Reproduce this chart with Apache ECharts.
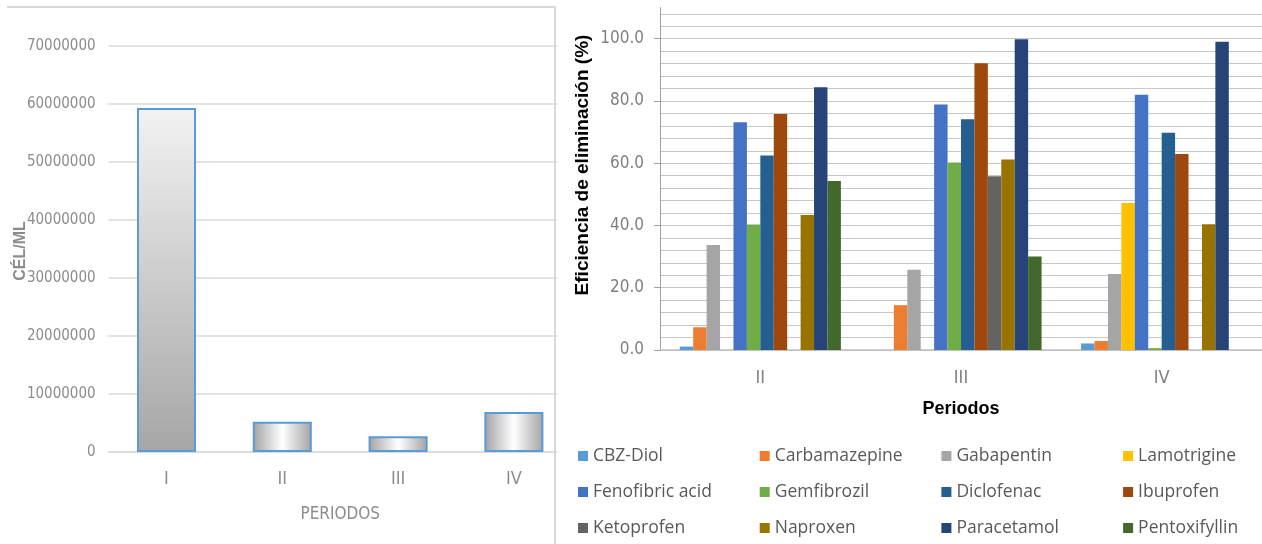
<!DOCTYPE html>
<html>
<head>
<meta charset="utf-8">
<script src="https://cdn.jsdelivr.net/npm/echarts@6/dist/echarts.min.js"></script>
<style>
  html, body { margin: 0; padding: 0; background: #fff; width: 1262px; height: 544px; overflow: hidden; }
  #leftPanel { position: absolute; left: 0; top: 0; width: 557px; height: 544px; overflow: hidden; }
  #leftChart { position: absolute; left: 0; top: 0; width: 600px; height: 544px; }
  #leftFrame { position: absolute; left: 7px; top: 6px; width: 549px; height: 540px;
               border-top: 2px solid #d9d9d9; border-right: 2px solid #d9d9d9; box-sizing: border-box; }
  #rightChart { position: absolute; left: 0; top: 0; width: 1262px; height: 544px; }
</style>
</head>
<body>
<div id="leftPanel"><div id="leftChart"></div></div>
<div id="leftFrame"></div>
<div id="rightChart"></div>
<script>
// Cell density per period
const periodsLeft = ['I', 'II', 'III', 'IV'];
const cellsPerMl = [59300000, 5200000, 2700000, 6900000];

// Removal efficiency (%) per compound, periods II, III, IV
const periodsRight = ['II', 'III', 'IV'];
const compounds = ['CBZ-Diol', 'Carbamazepine', 'Gabapentin', 'Lamotrigine',
                   'Fenofibric acid', 'Gemfibrozil', 'Diclofenac', 'Ibuprofen',
                   'Ketoprofen', 'Naproxen', 'Paracetamol', 'Pentoxifyllin'];
const cbzDiol        = [1.1, 0, 2.1];
const carbamazepine  = [7.3, 14.4, 2.9];
const gabapentin     = [33.7, 25.8, 24.4];
const lamotrigine    = [0, 0, 47.2];
const fenofibricAcid = [73.2, 78.9, 82.0];
const gemfibrozil    = [40.3, 60.2, 0.6];
const diclofenac     = [62.5, 74.1, 69.8];
const ibuprofen      = [75.8, 92.1, 63.0];
const ketoprofen     = [0, 55.8, 0];
const naproxen       = [43.4, 61.2, 40.4];
const paracetamol    = [84.4, 99.8, 99.0];
const pentoxifyllin  = [54.3, 30.0, 0];
const efficiencyTicks = [0, 20, 40, 60, 80, 100];

const compoundValues = [cbzDiol, carbamazepine, gabapentin, lamotrigine,
  fenofibricAcid, gemfibrozil, diclofenac, ibuprofen,
  ketoprofen, naproxen, paracetamol, pentoxifyllin];

const palette = ['#5b9bd5', '#ed7d31', '#a5a5a5', '#ffc000', '#4472c4', '#70ad47',
                 '#255e91', '#9e480e', '#636363', '#997300', '#264478', '#43682b'];

const NARROW = "'Liberation Sans Narrow', 'DejaVu Sans Condensed', sans-serif";
const LEGEND_FONT = "'Open Sans', 'Liberation Sans', sans-serif";

// ---------- left chart ----------
const tallFill = new echarts.graphic.LinearGradient(0, 0, 0, 1, [
  { offset: 0, color: '#f2f2f2' }, { offset: 1, color: '#a6a6a6' }
]);
const shortFill = new echarts.graphic.LinearGradient(0, 0, 1, 0, [
  { offset: 0, color: '#a2a2a2' }, { offset: 0.5, color: '#ffffff' }, { offset: 1, color: '#a2a2a2' }
]);

const left = echarts.init(document.getElementById('leftChart'), null, { renderer: 'canvas' });
left.setOption({
  animation: false,
  grid: { left: 108.6, top: 46, width: 463.2, height: 406, outerBoundsMode: 'none', containLabel: false },
  xAxis: {
    type: 'category',
    data: periodsLeft,
    axisLine: { show: true, lineStyle: { color: '#d9d9d9', width: 1.5 } },
    axisTick: { show: false },
    axisLabel: { margin: 18, color: '#8c8c8c', fontSize: 18, fontFamily: NARROW },
    name: 'PERIODOS',
    nameLocation: 'middle',
    nameGap: 54,
    nameTextStyle: { color: '#8c8c8c', fontSize: 17, fontFamily: NARROW }
  },
  yAxis: {
    type: 'value',
    min: 0, max: 70000000, interval: 10000000,
    axisLine: { show: false },
    axisTick: { show: false },
    splitLine: { lineStyle: { color: '#d9d9d9', width: 1.5 } },
    axisLabel: { margin: 13, color: '#8c8c8c', fontSize: 15, fontFamily: NARROW,
                 formatter: v => String(v) }
  },
  graphic: [{
    // y axis title
    type: 'text',
    x: 21, y: 251,
    rotation: Math.PI / 2,
    style: {
      text: 'CÉL/ML',
      fill: '#8c8c8c',
      font: "bold 16px 'Liberation Sans', sans-serif",
      align: 'center', verticalAlign: 'middle',
      textAlign: 'center', textVerticalAlign: 'middle'
    }
  }],
  series: [{
    type: 'bar',
    barWidth: '51%',
    data: cellsPerMl.map((v, i) => ({
      value: v,
      itemStyle: { color: i === 0 ? tallFill : shortFill }
    })),
    itemStyle: { borderColor: '#5b9bd5', borderWidth: 2 }
  }]
});

// ---------- right chart ----------
const legendRows = [0, 1, 2].map(r => ({
  left: 578,
  top: 446 + r * 36,
  width: 760,
  orient: 'horizontal',
  padding: 0,
  itemGap: 0,
  itemWidth: 10,
  itemHeight: 10,
  icon: 'rect',
  textStyle: { width: 166.7, overflow: 'truncate', fontSize: 17.5, lineHeight: 20,
               color: '#595959', fontFamily: LEGEND_FONT },
  data: compounds.slice(r * 4, r * 4 + 4)
}));

const right = echarts.init(document.getElementById('rightChart'), null, { renderer: 'canvas' });
right.setOption({
  animation: false,
  color: palette,
  grid: { left: 660, top: 7.6, width: 602, height: 342.4, outerBoundsMode: 'none', containLabel: false },
  legend: legendRows,
  xAxis: {
    type: 'category',
    data: periodsRight,
    axisLine: { show: true, lineStyle: { color: '#bfbfbf', width: 1.5 } },
    axisTick: { show: false },
    axisLabel: { margin: 19, color: '#7f7f7f', fontSize: 18, fontFamily: NARROW },
    name: 'Periodos',
    nameLocation: 'middle',
    nameGap: 50,
    nameTextStyle: { color: '#000', fontSize: 18, fontWeight: 'bold',
                     fontFamily: "'Liberation Sans', sans-serif" }
  },
  yAxis: [{
    // labelled axis: ticks and labels every 20
    type: 'value',
    min: 0, max: 110, interval: 4,
    axisLine: { show: true, lineStyle: { color: '#a0a0a0', width: 1 } },
    axisTick: { show: true, length: 6, customValues: efficiencyTicks,
                lineStyle: { color: '#a0a0a0' } },
    axisLabel: { customValues: efficiencyTicks, margin: 16, color: '#7f7f7f',
                 fontSize: 17, fontFamily: NARROW, formatter: v => v.toFixed(1) },
    splitLine: { show: false }
  }, {
    // gridlines every 4
    type: 'value',
    min: 0, max: 110, interval: 4,
    axisLine: { show: false },
    axisTick: { show: false },
    axisLabel: { show: false },
    splitLine: { show: true, showMaxLine: false, lineStyle: { color: '#c8c8c8', width: 1.2 } }
  }],
  graphic: [{
    type: 'text',
    x: 583, y: 165,
    rotation: Math.PI / 2,
    style: {
      text: 'Eficiencia de eliminación (%)',
      fill: '#000',
      font: "bold 19px 'Liberation Sans', sans-serif",
      align: 'center', verticalAlign: 'middle',
      textAlign: 'center', textVerticalAlign: 'middle'
    }
  }],
  series: compounds.map((name, i) => ({
    name,
    type: 'bar',
    yAxisIndex: 0,
    barGap: '0%',
    barCategoryGap: '19.7%',
    z: 3,
    data: compoundValues[i]
  }))
});
</script>
</body>
</html>
